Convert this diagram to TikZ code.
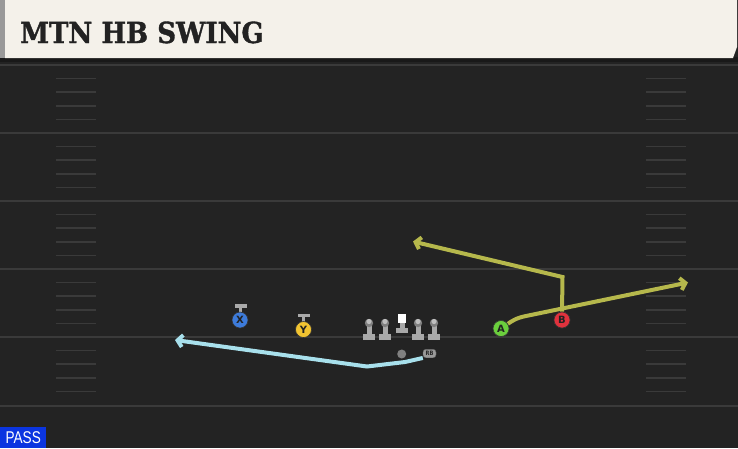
\documentclass[tikz,border=0pt]{standalone}
\usepackage{fontspec}
\setmainfont{DejaVu Serif}
\newfontfamily\titlefont{DejaVu Serif}[BoldFeatures={FakeBold=1.3}]
\newfontfamily\lblfont{DejaVu Sans}
\newfontfamily\passfont{Liberation Sans}
\usetikzlibrary{arrows.meta}
\definecolor{fieldbg}{HTML}{232323}
\definecolor{yardline}{HTML}{3A3A3A}
\definecolor{hdrbg}{HTML}{F4F1EA}
\definecolor{hdrtxt}{HTML}{222222}
\definecolor{olive}{HTML}{B6B84C}
\definecolor{skyroute}{HTML}{A8E0EC}
\definecolor{xblue}{HTML}{3D7BDA}
\definecolor{yyellow}{HTML}{F2C431}
\definecolor{agreen}{HTML}{6BCF3D}
\definecolor{bred}{HTML}{E0323D}
\definecolor{passblue}{HTML}{0B35E0}
\definecolor{oline}{HTML}{A9A9A9}
\tikzset{
  yard/.style={draw=yardline, line width=2pt},
  hashmark/.style={draw=yardline, line width=1.6pt},
  player/.style={circle, draw=black!80, line width=0.6pt, minimum size=16pt, inner sep=0pt, font=\lblfont\bfseries\fontsize{10}{10}\selectfont, text=hdrtxt},
  route/.style={line width=4pt, line join=miter, -{Straight Barb[length=5pt,width=12pt]}},
  olroute/.style={route, draw=olive},
  skyline/.style={route, draw=skyroute},
}
\begin{document}
\begin{tikzpicture}[x=1pt,y=-1pt]
\useasboundingbox (0,0) rectangle (738,448);
% field background
\fill[fieldbg] (0,0) rectangle (738,448);
% yard lines
\foreach \yy in {65,133,201,269,337,406} {
  \draw[yard] (0,\yy) -- (738,\yy);
}
% hash marks
\foreach \yy in {65,133,201,269,337} {
  \foreach \k in {1,2,3,4} {
    \draw[hashmark] (56,{\yy+\k*13.6}) -- (96,{\yy+\k*13.6});
    \draw[hashmark] (646,{\yy+\k*13.6}) -- (686,{\yy+\k*13.6});
  }
}
% header
\fill[black!90] (0,57) rectangle (738,62);
\fill[black!40] (0,0) rectangle (5,58);
\fill[hdrbg] (5,0) -- (737,0) -- (737,47) -- (733,58) -- (5,58) -- cycle;
\node[anchor=base west, inner sep=0pt, text=hdrtxt, font=\titlefont\bfseries\fontsize{29}{29}\selectfont] (title) at (20,43) {\scalebox{0.9}[1]{MTN HB SWING}};
% PASS tag
\node[anchor=south west, fill=passblue, text=white, inner xsep=4pt, inner ysep=2pt, minimum width=46pt, minimum height=21pt, font=\passfont\fontsize{17}{17}\selectfont] (pass) at (0,448) {\scalebox{0.8}[1]{PASS}};
% offensive line
\foreach \xx in {369,385,418,434} {
  \fill[oline] ({\xx-6},334) rectangle ({\xx+6},339.5);
  \fill[oline] ({\xx-2.5},325) rectangle ({\xx+2.5},334);
  \fill[black!25!oline] (\xx,323) circle (4.2pt);
  \fill[white!25!oline] (\xx,321.5) circle (2.6pt);
}
\fill[oline] (395.5,328) rectangle (408,333);
\fill[oline] (399.5,322) rectangle (404.5,328);
\fill[white] (397.5,314) rectangle (406,322.5);
% X and Y bars
\fill[oline] (234.5,304) rectangle (247,307.5);
\fill[oline] (239,307) rectangle (242,312);
\fill[oline] (297.5,313.5) rectangle (310,317);
\fill[oline] (302,316.5) rectangle (305,322);
% RB
\node[circle, fill=black!50, minimum size=9pt, inner sep=0pt] (qb) at (401.7,354) {};
\node[rounded corners=3pt, fill=black!40, draw=black!60, line width=0.4pt, minimum width=13pt, minimum height=8.5pt, inner sep=0pt, font=\lblfont\bfseries\fontsize{6}{6}\selectfont, text=black!85] (rb) at (429.5,353.5) {\scalebox{0.85}[1]{RB}};
% route waypoints
\coordinate (s1) at (405,362);
\coordinate (s2) at (367,366.5);
\coordinate (sEnd) at (175,340);
\coordinate (a1) at (526,316);
\coordinate (aEnd) at (688,282.5);
\coordinate (b1) at (562.5,277);
\coordinate (bEnd) at (413,241.5);
% receivers
\node[player, fill=agreen] (A) at (501,328.5) {A};
\node[player, fill=bred] (B) at (562,320) {B};
% routes
\draw[skyline] (rb.south west) -- (s1) -- (s2) -- (sEnd);
\draw[olroute] (A) .. controls (512,321) and (516,318) .. (a1) -- (aEnd);
\draw[olroute] (B.north) -- (b1) -- (bEnd);
\node[player, fill=agreen] at (A) {A};
\node[player, fill=bred] at (B) {B};
\node[player, fill=xblue] (X) at (240,320) {X};
\node[player, fill=yyellow] (Y) at (303.5,329.5) {Y};
\end{tikzpicture}
\end{document}
